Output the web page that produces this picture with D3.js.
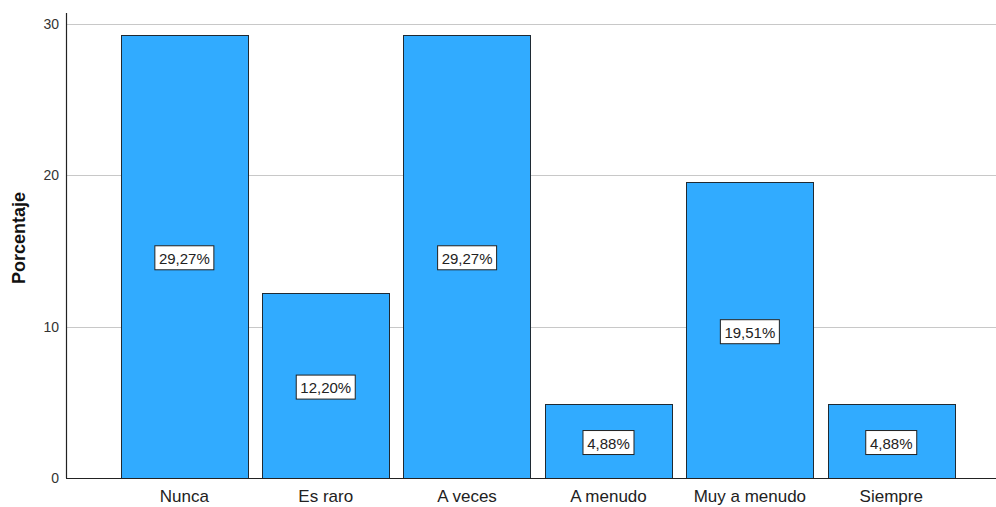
<!DOCTYPE html>
<html>
<head>
<meta charset="utf-8">
<script src="https://cdn.jsdelivr.net/npm/d3@7/dist/d3.min.js"></script>
<style>
	body { margin: 0; background: #fff; }
	svg { display: block; font-family: Arial, "Liberation Sans", sans-serif; }
</style>
</head>
<body>
<div id="chart"></div>
<script>
// data
var categories = ["Nunca", "Es raro", "A veces", "A menudo", "Muy a menudo", "Siempre"];
var percents = [29.27, 12.20, 29.27, 4.88, 19.51, 4.88];
var bar_labels = ["29,27%", "12,20%", "29,27%", "4,88%", "19,51%", "4,88%"];
var y_ticks = [0, 10, 20, 30];

var width = 996, height = 507;

var svg = d3.select("#chart").append("svg")
	.attr("width", width)
	.attr("height", height);

var axis_x = 66;
var scaleY = d3.scaleLinear().domain([0, 30]).range([478, 23.5]);
var scaleX = d3.scaleBand().domain(categories).range([106.6, 969]).padding(0.1);

// gridlines
svg.selectAll(".grid").data(y_ticks.filter(function(d){ return d > 0; }))
	.enter().append("line")
	.attr("class", "grid")
	.attr("x1", axis_x)
	.attr("x2", width)
	.attr("y1", function(d){ return Math.round(scaleY(d)) + 0.5; })
	.attr("y2", function(d){ return Math.round(scaleY(d)) + 0.5; })
	.style("stroke", "#c8c8c8")
	.style("stroke-width", 1);

// bars
svg.selectAll(".bar").data(percents)
	.enter().append("rect")
	.attr("class", "bar")
	.attr("x", function(d, i){ return Math.round(scaleX(categories[i])) + 0.5; })
	.attr("y", function(d){ return Math.round(scaleY(d)) + 0.5; })
	.attr("width", Math.round(scaleX.bandwidth()))
	.attr("height", function(d){ return Math.round(scaleY(0)) - Math.round(scaleY(d)); })
	.style("fill", "#31abff")
	.style("stroke", "#1f2a33")
	.style("stroke-width", 1);

// value labels with boxes
var lab = svg.selectAll(".val").data(percents)
	.enter().append("g")
	.attr("class", "val")
	.attr("transform", function(d, i){
		var cx = scaleX(categories[i]) + scaleX.bandwidth() / 2;
		var cy = (scaleY(d) + scaleY(0)) / 2 + 2;
		return "translate(" + cx + "," + cy + ")";
	});

lab.append("rect")
	.attr("x", function(d, i){ return bar_labels[i].length > 5 ? -29.5 : -25.5; })
	.attr("y", -12.5)
	.attr("width", function(d, i){ return bar_labels[i].length > 5 ? 59 : 51; })
	.attr("height", 24)
	.style("fill", "#fff")
	.style("stroke", "#222")
	.style("stroke-width", 1);

lab.append("text")
	.attr("y", 5.5)
	.style("text-anchor", "middle")
	.style("font-size", "15px")
	.style("fill", "#222")
	.text(function(d, i){ return bar_labels[i]; });

// axes lines
svg.append("line")
	.attr("x1", axis_x + 0.5).attr("x2", axis_x + 0.5)
	.attr("y1", 13).attr("y2", 478)
	.style("stroke", "#222").style("stroke-width", 1.2);

svg.append("line")
	.attr("x1", axis_x).attr("x2", width)
	.attr("y1", 478.5).attr("y2", 478.5)
	.style("stroke", "#222").style("stroke-width", 1.2);

// y ticks
svg.selectAll(".ytick").data(y_ticks)
	.enter().append("text")
	.attr("class", "ytick")
	.attr("x", 59)
	.attr("y", function(d){ return scaleY(d) + 5; })
	.style("text-anchor", "end")
	.style("font-size", "14px")
	.style("fill", "#333")
	.text(function(d){ return d; });

// category labels
svg.selectAll(".xlab").data(categories)
	.enter().append("text")
	.attr("class", "xlab")
	.attr("x", function(d){ return scaleX(d) + scaleX.bandwidth() / 2; })
	.attr("y", 502)
	.style("text-anchor", "middle")
	.style("font-size", "17px")
	.style("fill", "#222")
	.text(function(d){ return d; });

// y title
svg.append("text")
	.attr("transform", "translate(25,238) rotate(-90)")
	.style("text-anchor", "middle")
	.style("font-size", "18px")
	.style("font-weight", "bold")
	.style("fill", "#111")
	.text("Porcentaje");
</script>
</body>
</html>
